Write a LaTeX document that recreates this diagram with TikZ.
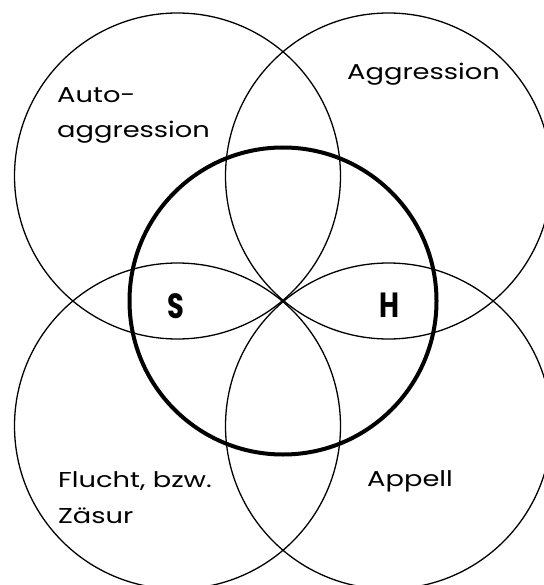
\documentclass[tikz,border=0pt]{standalone}
\usepackage{fontspec}
\setmainfont{Poppins}
\newcommand{\lblx}[1]{\scalebox{1.27}[1]{#1}}
\newcommand{\markx}[1]{\scalebox{0.78}[1]{#1}}
\tikzset{
  ring/.style={draw=black, line width=1.3pt},
  core/.style={draw=black, line width=4pt},
  lbl/.style={anchor=base west, inner sep=0pt, font=\fontsize{21.5}{24}\selectfont},
  hmark/.style={anchor=center, inner sep=0pt, font=\fontsize{35}{38}\selectfont\bfseries},
}
\begin{document}
\begin{tikzpicture}[x=1pt, y=-1pt]
\useasboundingbox (0,0) rectangle (543,585);
\draw[ring] (177.5,176) circle[radius=163];
\draw[ring] (388.5,176) circle[radius=163];
\draw[ring] (177.5,426) circle[radius=163];
\draw[ring] (388.5,426) circle[radius=163];
\draw[core] (283,301) circle[radius=153.5];
\node[lbl] (auto1) at (57,103) {\lblx{Auto-}};
\node[lbl] (auto2) at (57,138) {\lblx{aggression}};
\node[lbl] (aggr) at (347,79.5) {\lblx{Aggression}};
\node[lbl] (flucht1) at (58,487) {\lblx{Flucht, bzw.}};
\node[lbl] (flucht2) at (58,523) {\lblx{Zäsur}};
\node[lbl] (appell) at (367,486) {\lblx{Appell}};
\node[hmark] (s) at (176,306) {\markx{S}};
\node[hmark] (h) at (389,305) {\markx{H}};
\end{tikzpicture}
\end{document}
